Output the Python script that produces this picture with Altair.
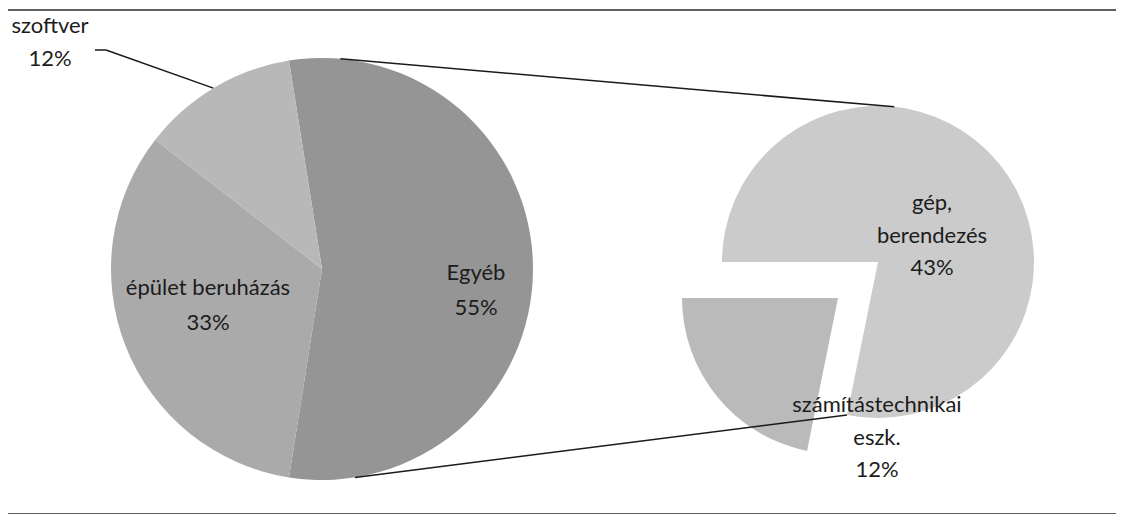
import math
import altair as alt
import pandas as pd

# ---------------- data ----------------
main_cats = ["Egyéb", "épület beruházás", "szoftver"]
main_vals = [55, 33, 12]
sub_cats = ["gép, berendezés", "számítástechnikai eszk."]
sub_vals = [43, 12]

# ---------------- style / layout ----------------
all_cats = main_cats + sub_cats
all_colors = ["#959595", "#aaaaaa", "#b8b8b8", "#cbcbcb", "#bababa"]
FONT = "Lato"
FS = 22
OFF = 8  # page margin

W, H = 1108, 506


def px(x):
    return x - OFF


# main pie geometry (page coords)
C1 = (322, 269)
R1 = 211
# second pie
C2 = (878, 262)      # gép, berendezés vertex
C2b = (838, 298)     # exploded számítástechnikai vertex
R2 = 156

deg = math.pi / 180.0
main_total = sum(main_vals)
other_share = main_vals[0] / main_total * 360.0
main_start = (90.0 - other_share / 2.0) * deg   # "Egyéb" centred toward second pie
sub_total = sum(sub_vals)
sub_start = -90.0 * deg

color = alt.Color("cat:N", scale=alt.Scale(domain=all_cats, range=all_colors), legend=None)

main_df = pd.DataFrame({"cat": main_cats, "val": main_vals, "ord": list(range(len(main_cats)))})
sub_df = pd.DataFrame({"cat": sub_cats, "val": sub_vals, "ord": list(range(len(sub_cats)))})

main_pie = alt.Chart(main_df).mark_arc(radius=R1).encode(
    theta=alt.Theta("val:Q", stack=True,
                    scale=alt.Scale(domain=[0, main_total], range=[main_start, main_start + 2 * math.pi])),
    order=alt.Order("ord:Q"),
    color=color,
    x=alt.value(px(C1[0])),
    y=alt.value(px(C1[1])),
)


def sub_layer(cat, centre):
    return alt.Chart(sub_df).transform_stack(
        stack="val", groupby=[], as_=["s0", "s1"], sort=[alt.SortField("ord")]
    ).transform_filter(alt.datum.cat == cat).mark_arc(radius=R2).encode(
        theta=alt.Theta("s0:Q", scale=alt.Scale(domain=[0, sub_total],
                                                range=[sub_start, sub_start + 2 * math.pi])),
        theta2="s1:Q",
        color=color,
        x=alt.value(px(centre[0])),
        y=alt.value(px(centre[1])),
    )


sub_a = sub_layer(sub_cats[0], C2)
sub_b = sub_layer(sub_cats[1], C2b)

one = pd.DataFrame({"k": [0]})


def rule(x1, y1, x2, y2, w=1.5, col="#1a1a1a"):
    return alt.Chart(one).mark_rule(color=col, strokeWidth=w).encode(
        x=alt.value(px(x1)), y=alt.value(px(y1)), x2=alt.value(px(x2)), y2=alt.value(px(y2))
    )


def pt(c, r, a):
    return (c[0] + r * math.sin(a * deg), c[1] - r * math.cos(a * deg))


m_top = pt(C1, R1, 5)
m_bot = pt(C1, R1, 171)
s_top = pt(C2, R2, 6)
gep_end = (sub_vals[0] / sub_total) * 360.0 - 90.0
s_bot = pt(C2, R2, gep_end)
soft = pt(C1, R1, -31)

rules = [
    rule(m_top[0], m_top[1], s_top[0], s_top[1]),
    rule(m_bot[0], m_bot[1], s_bot[0], s_bot[1]),
    rule(soft[0], soft[1], 106, 50),
    rule(95, 50, 106, 50),
    rule(0, 10, 1124, 10, 1.6, "#2a2a2a"),
    rule(0, 514, 1124, 514, 1.6, "#2a2a2a"),
]


def label(text, x, y, lh):
    # y is the centre of the first line
    return alt.Chart(one).mark_text(
        font=FONT, fontSize=FS, color="#1c1c1c", align="center", baseline="middle",
        lineBreak="\n", lineHeight=lh,
    ).encode(x=alt.value(px(x)), y=alt.value(px(y)), text=alt.value(text))


labels = [
    label(f"{main_cats[2]}\n{main_vals[2]}%", 50, 26, 33),
    label(f"{main_cats[1]}\n{main_vals[1]}%", 208, 288, 35),
    label(f"{main_cats[0]}\n{main_vals[0]}%", 476, 273, 35),
    label("gép,\nberendezés\n" + f"{sub_vals[0]}%", 932, 203, 32.5),
    label("számítástechnikai\neszk.\n" + f"{sub_vals[1]}%", 877, 405, 32.5),
]

chart = alt.layer(main_pie, sub_a, sub_b, *rules, *labels).resolve_scale(
    theta="independent"
).properties(
    width=W, height=H, padding=0, autosize="none", background="white"
).configure_view(stroke=None)

chart.save("out.html", embed_options={"renderer": "svg", "actions": False})
